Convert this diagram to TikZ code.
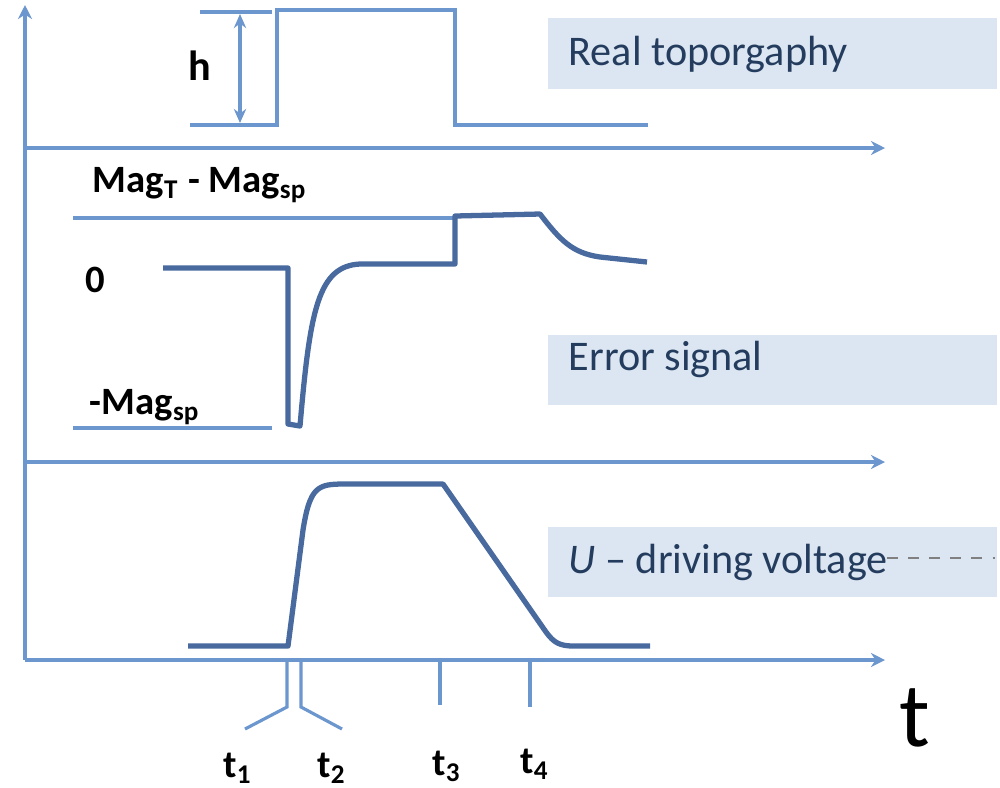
\documentclass[tikz,border=0pt]{standalone}
\usepackage{fontspec}
\setmainfont{Carlito}
\usetikzlibrary{arrows.meta}

\definecolor{axisblue}{RGB}{108,150,206}
\definecolor{sigblue}{RGB}{72,106,158}
\definecolor{boxfill}{RGB}{220,230,242}
\definecolor{boxtext}{RGB}{36,60,94}

\tikzset{
  axis/.style={color=axisblue, line width=1.2pt},
  axisarrow/.style={axis, -{Stealth[length=4pt,width=4pt]}},
  sig/.style={color=sigblue, line width=1.5pt, line join=round},
  topo/.style={color=axisblue, line width=1.3pt, line join=miter},
  tick/.style={color=axisblue, line width=0.9pt},
  panelbox/.style={fill=boxfill},
  paneltext/.style={text=boxtext, font=\fontsize{12}{14}\selectfont, anchor=base west, inner sep=0pt},
  level/.style={font=\bfseries\fontsize{11}{13}\selectfont, inner sep=0pt},
}

\begin{document}
\begin{tikzpicture}[x=0.01cm, y=-0.01cm]
\useasboundingbox (0,0) rectangle (1000,787);

% caption boxes
\fill[panelbox] (548,18) rectangle (997,89);
\fill[panelbox] (548,335) rectangle (997,405);
\fill[panelbox] (548,527) rectangle (997,597);
\node[paneltext] (topotext) at (568,65) {Real toporgaphy};
\node[paneltext] (errtext) at (568,370) {Error signal};
\node[paneltext] (volttext) at (568,573) {\textit{U} -- driving voltage};
\coordinate (dashstart) at (887,558);
\coordinate (dashend) at (995,558);
\draw[gray, dashed, line width=0.4pt] (dashstart) -- (dashend);

% axes
\coordinate (origin) at (25,660);
\draw[axisarrow] (origin) -- (25,5);
\draw[axisarrow] (25,148) -- (885,148);
\draw[axisarrow] (25,462) -- (885,462);
\draw[axisarrow] (origin) -- (885,660);
\node[font=\fontsize{26}{30}\selectfont, inner sep=0pt] (tlabel) at (915,718) {t};

% topography with step height
\draw[topo] (200,12) -- (272,12);
\draw[topo] (190,125) -- (277,125) -- (277,10) -- (455,10) -- (455,125) -- (648,125);
\draw[tick, {Stealth[length=4pt,width=3.5pt]}-{Stealth[length=4pt,width=3.5pt]}] (240,14) -- (240,123);
\node[font=\bfseries\fontsize{12}{14}\selectfont, inner sep=0pt] (hlabel) at (200,66) {h};

% error signal
\node[level] (magdiff) at (200,185) {Mag\textsubscript{T} - Mag\textsubscript{sp}};
\node[level] (zero) at (95,280) {0};
\node[level] (magsp) at (145,407) {-Mag\textsubscript{sp}};
\draw[topo] (73,218) -- (455,218);
\draw[topo] (73,428) -- (272,428);
\draw[sig] (163,268) -- (288,268) -- (288,424) -- (300,426)
   .. controls (310,310) and (318,266) .. (360,264) -- (455,264) -- (455,216) -- (540,214)
   .. controls (560,240) and (572,253) .. (600,257) -- (647,262);

% driving voltage
\draw[sig] (188,646) -- (288,646) -- (303,530)
   .. controls (310,486) and (318,484) .. (345,484) -- (443,484) -- (546,632)
   .. controls (554,643) and (560,646) .. (574,646) -- (650,646);

% time marks
\draw[tick] (287,662) -- (287,707) -- (245,729);
\draw[tick] (301,662) -- (301,707) -- (342,729);
\draw[tick] (440,662) -- (440,705);
\draw[tick] (530,662) -- (530,707);
\node[level] (t1) at (238,768) {t\textsubscript{1}};
\node[level] (t2) at (332,768) {t\textsubscript{2}};
\node[level] (t3) at (447,766) {t\textsubscript{3}};
\node[level] (t4) at (535,764) {t\textsubscript{4}};

\end{tikzpicture}
\end{document}
